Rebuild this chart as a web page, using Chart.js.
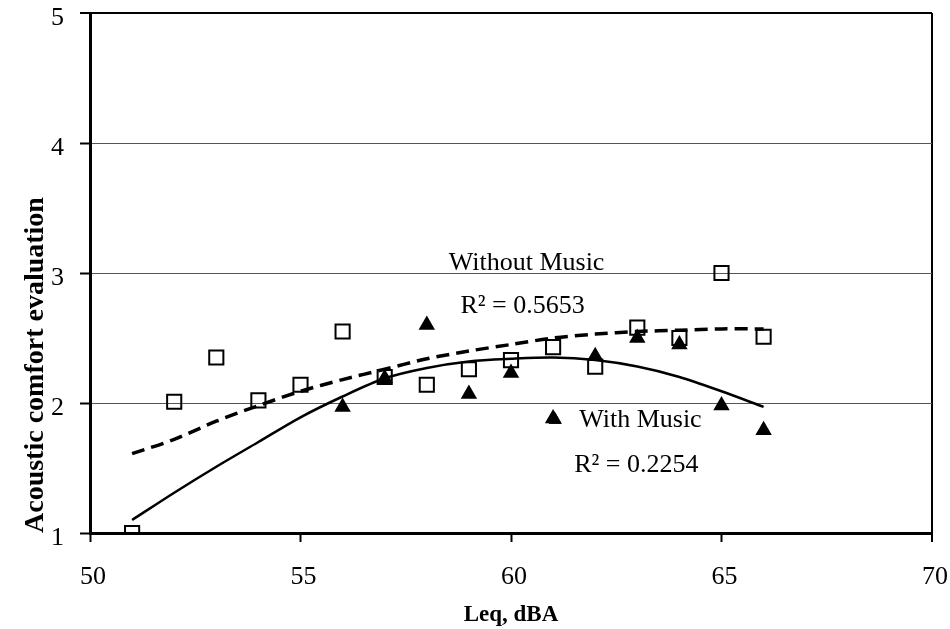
<!DOCTYPE html>
<html><head><meta charset="utf-8">
<script src="https://cdn.jsdelivr.net/npm/chart.js@4"></script>
<style>html,body{margin:0;padding:0;background:#fff;} #wrap{width:950px;height:629px;}</style>
</head><body><div id="wrap"><canvas id="c" width="950" height="629"></canvas></div>
<script>
// ---- data ----
const leqWithoutMusic = [51, 52, 53, 54, 55, 56, 57, 58, 59, 60, 61, 62, 63, 64, 65, 66];
const withoutMusic    = [1.00, 2.01, 2.35, 2.02, 2.14, 2.55, 2.20, 2.14, 2.26, 2.33, 2.43, 2.28, 2.58, 2.50, 3.00, 2.51];
const leqWithMusic    = [56, 57, 58, 59, 60, 61, 62, 63, 64, 65, 66];
const withMusic       = [1.97, 2.19, 2.60, 2.07, 2.23, 1.88, 2.36, 2.50, 2.45, 1.98, 1.79];
const trendLeq        = [51, 52, 53, 54, 55, 56, 57, 58, 59, 60, 61, 62, 63, 64, 65, 66];
const trendWithoutMusic = [1.61, 1.72, 1.86, 1.98, 2.09, 2.18, 2.26, 2.34, 2.40, 2.45, 2.50, 2.53, 2.55, 2.56, 2.57, 2.57];
const trendWithMusic    = [1.10, 1.31, 1.51, 1.70, 1.89, 2.05, 2.19, 2.27, 2.32, 2.34, 2.35, 2.33, 2.28, 2.20, 2.09, 1.97];
const xTickValues = [50, 55, 60, 65, 70];
const yTickValues = [1, 2, 3, 4, 5];
const xTitle = 'Leq, dBA';
const yTitle = 'Acoustic comfort evaluation';
const labelWithout = 'Without Music';
const labelWith = 'With Music';
const r2Without = 'R\u00B2 = 0.5653';
const r2With = 'R\u00B2 = 0.2254';

const toXY = (xs, ys) => xs.map((x, i) => ({x: x, y: ys[i]}));

Chart.defaults.font.family = '"Liberation Serif", "Times New Roman", serif';
Chart.defaults.color = '#000';

const annotationPlugin = {
  id: 'annot',
  afterDatasetsDraw(chart) {
    const {ctx, scales: {x, y}} = chart;
    ctx.save();
    ctx.fillStyle = '#000';
    ctx.font = '26px "Liberation Serif"';
    ctx.textBaseline = 'alphabetic';
    const items = [
      {t: labelWithout, vx: 60.37, vy: 3.02, a: 'center'},
      {t: r2Without, vx: 58.8, vy: 2.69, a: 'left'},
      {t: labelWith, vx: 61.62, vy: 1.815, a: 'left'},
      {t: r2With, vx: 61.5, vy: 1.47, a: 'left'}
    ];
    items.forEach(it => {
      ctx.textAlign = it.a;
      ctx.fillText(it.t, x.getPixelForValue(it.vx), y.getPixelForValue(it.vy));
    });
    // legend-style marker before "With Music"
    Chart.helpers.drawPoint(ctx, {pointStyle: 'triangle', radius: 7.5, borderWidth: 0, rotation: 0},
      x.getPixelForValue(61.05), y.getPixelForValue(1.87));
    ctx.fill();
    ctx.restore();
  }
};

new Chart(document.getElementById('c'), {
  type: 'scatter',
  data: {
    datasets: [
      {
        label: 'Without Music trend',
        data: toXY(trendLeq, trendWithoutMusic),
        showLine: true, pointRadius: 0, borderColor: '#000', borderWidth: 3.5,
        borderDash: [13, 7], tension: 0.3, fill: false, order: 3
      },
      {
        label: 'With Music trend',
        data: toXY(trendLeq, trendWithMusic),
        showLine: true, pointRadius: 0, borderColor: '#000', borderWidth: 2.5,
        tension: 0.3, fill: false, order: 4
      },
      {
        label: 'Without Music',
        data: toXY(leqWithoutMusic, withoutMusic),
        pointStyle: 'rect', pointRadius: 10, borderColor: '#000', borderWidth: 2,
        backgroundColor: 'rgba(0,0,0,0)', order: 1
      },
      {
        label: 'With Music',
        data: toXY(leqWithMusic, withMusic),
        pointStyle: 'triangle', pointRadius: 9.5, borderColor: '#000', borderWidth: 0,
        backgroundColor: '#000', order: 2
      }
    ]
  },
  options: {
    responsive: false,
    animation: false,
    devicePixelRatio: 1,
    layout: {padding: {top: 13, right: 18, bottom: 0, left: 0}},
    plugins: {legend: {display: false}, tooltip: {enabled: false}},
    scales: {
      x: {
        type: 'linear', min: 50, max: 70,
        afterBuildTicks: s => { s.ticks = xTickValues.map(v => ({value: v})); },
        afterFit: s => { s.height = 96; s.paddingLeft = 0; s.paddingRight = 0; },
        ticks: {font: {size: 26}, padding: 20, labelOffset: 3, maxRotation: 0, callback: v => String(v)},
        grid: {
          color: c => (c.tick && c.tick.value === 70) ? '#000' : 'rgba(0,0,0,0)',
          lineWidth: c => (c.tick && c.tick.value === 70) ? 2 : 1,
          tickColor: '#000', tickWidth: 2, tickLength: 9
        },
        border: {display: true, color: '#000', width: 3},
        title: {display: true, text: xTitle, font: {size: 23, weight: 'bold'}, padding: {top: 0, bottom: 0}}
      },
      y: {
        type: 'linear', min: 1, max: 5,
        afterBuildTicks: s => { s.ticks = yTickValues.map(v => ({value: v})); },
        afterFit: s => { s.width = 90; s.paddingTop = 0; s.paddingBottom = 0; },
        ticks: {font: {size: 26}, padding: 16, labelOffset: 5, callback: v => String(v)},
        grid: {
          color: c => {
            const v = c.tick ? c.tick.value : null;
            if (v === 5) return '#000';
            if (v === 1) return 'rgba(0,0,0,0)';
            return '#555';
          },
          lineWidth: c => (c.tick && c.tick.value === 5) ? 2 : 1,
          tickColor: '#000', tickWidth: 2, tickLength: 10
        },
        border: {display: true, color: '#000', width: 3},
        title: {display: true, text: yTitle, align: 'start', font: {size: 28, weight: 'bold'}, padding: {top: 19, bottom: 0}}
      }
    }
  },
  plugins: [annotationPlugin]
});
</script>
</body></html>
